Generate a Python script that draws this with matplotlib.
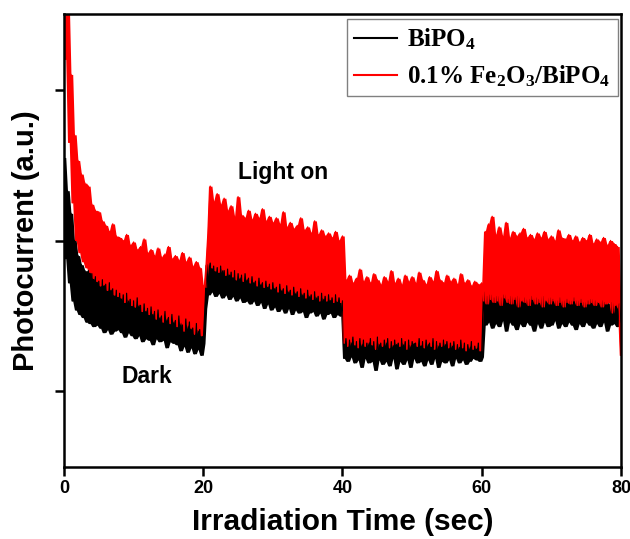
import numpy as np
import matplotlib
matplotlib.use("Agg")
import matplotlib.pyplot as plt

# tempo de irradiação (s), amostrado a cada 0.25 s
tempo = np.linspace(0, 80, 321)

# fotocorrente (u.a.) - BiPO4
bipo4 = [
    20.5, 13.8, 18.3, 12.2, 16.8, 11.0, 15.0, 10.4,
    14.0, 10.1, 13.4, 9.9, 13.0, 9.6, 13.0, 9.5,
    12.8, 9.3, 12.6, 9.4, 12.3, 9.2, 12.4, 8.9,
    12.1, 9.1, 12.2, 8.8, 11.8, 9.0, 11.7, 9.1,
    11.5, 8.9, 11.4, 8.6, 11.5, 8.9, 11.1, 8.7,
    11.0, 8.5, 11.2, 8.7, 10.7, 8.3, 10.8, 8.5,
    10.5, 8.4, 10.6, 8.1, 10.3, 8.5, 10.4, 8.3,
    10.0, 8.4, 10.3, 7.9, 9.9, 8.3, 10.1, 8.2,
    9.7, 8.1, 10.0, 7.7, 9.4, 8.0, 9.8, 7.6,
    9.6, 7.9, 9.2, 7.5, 9.5, 7.8, 9.1, 7.4,
    8.2, 10.5, 13.4, 11.4, 13.5, 11.6, 13.3, 11.3,
    13.2, 11.5, 13.3, 11.2, 13.0, 11.4, 13.1, 11.1,
    12.9, 11.3, 13.0, 11.0, 12.8, 11.2, 12.7, 10.9,
    12.8, 11.0, 12.5, 10.8, 12.6, 11.0, 12.3, 10.7,
    12.5, 10.9, 12.2, 10.5, 12.3, 10.8, 12.1, 10.4,
    12.2, 10.6, 11.9, 10.3, 12.1, 10.5, 11.8, 10.2,
    12.0, 10.5, 11.7, 10.1, 11.9, 10.4, 11.6, 10.2,
    11.8, 10.3, 11.5, 9.9, 11.7, 10.2, 11.4, 10.3,
    11.6, 10.0, 11.3, 10.2, 11.5, 9.8, 11.3, 10.1,
    11.4, 10.2, 11.2, 9.9, 11.4, 10.1, 11.2, 10.0,
    11.0, 7.2, 8.5, 7.0, 8.4, 7.3, 8.6, 6.9,
    8.3, 7.1, 8.5, 6.6, 8.4, 7.2, 8.2, 6.9,
    8.5, 7.0, 8.3, 6.4, 8.6, 7.1, 8.2, 6.8,
    8.4, 7.0, 8.5, 6.7, 8.3, 7.2, 8.4, 6.5,
    8.2, 7.0, 8.5, 6.8, 8.3, 7.1, 8.4, 6.6,
    8.3, 7.2, 8.2, 6.9, 8.5, 7.0, 8.3, 6.7,
    8.4, 7.1, 8.2, 6.8, 8.5, 7.2, 8.3, 6.6,
    8.2, 7.0, 8.4, 6.9, 8.3, 7.1, 8.2, 6.7,
    8.3, 7.2, 8.1, 6.9, 8.4, 7.1, 8.2, 6.8,
    8.1, 7.0, 8.3, 7.2, 8.0, 7.1, 8.2, 7.0,
    7.3, 11.6, 9.4, 11.3, 9.6, 11.4, 9.2, 11.2,
    9.5, 11.3, 9.3, 11.2, 9.7, 11.4, 9.0, 11.1,
    9.6, 11.3, 9.4, 11.2, 9.1, 11.3, 9.5, 11.0,
    9.3, 11.2, 9.6, 11.1, 9.4, 11.3, 9.0, 11.2,
    9.5, 11.1, 9.2, 11.3, 9.6, 11.0, 9.3, 11.2,
    9.4, 11.1, 9.7, 11.0, 9.2, 11.2, 9.5, 11.0,
    9.3, 11.1, 9.6, 11.0, 9.4, 11.2, 9.1, 11.0,
    9.5, 11.1, 9.3, 10.9, 9.6, 11.0, 9.4, 11.1,
    9.2, 11.0, 9.5, 10.9, 9.3, 11.0, 9.6, 10.9,
    9.0, 10.8, 9.4, 10.9, 9.5, 10.7, 9.3, 10.8,
    9.6,
]

# fotocorrente (u.a.) - 0.1% Fe2O3/BiPO4
fe2o3_bipo4 = [
    34.0, 27.0, 31.0, 21.5, 26.0, 17.5, 22.0, 15.0,
    20.3, 14.2, 19.4, 13.6, 18.8, 13.2, 18.6, 12.9,
    17.4, 12.5, 17.0, 12.3, 16.9, 12.0, 16.3, 12.1,
    16.0, 11.7, 15.6, 11.8, 16.1, 11.4, 15.3, 11.3,
    15.2, 11.2, 15.0, 10.9, 15.4, 11.1, 14.7, 10.7,
    14.9, 10.6, 14.4, 10.8, 14.6, 10.3, 15.1, 10.4,
    14.2, 10.1, 14.4, 10.2, 14.0, 9.8, 14.5, 10.0,
    13.9, 9.6, 14.1, 9.9, 14.6, 9.5, 13.8, 9.7,
    14.0, 9.3, 13.7, 9.6, 14.2, 9.0, 13.6, 9.4,
    13.9, 9.2, 13.3, 8.8, 13.6, 9.1, 13.2, 8.7,
    12.0, 11.9, 13.5, 15.5, 18.6, 13.2, 17.6, 13.0,
    18.1, 12.9, 17.4, 13.1, 17.8, 12.7, 17.0, 12.8,
    17.3, 12.6, 16.6, 12.4, 17.9, 12.6, 16.7, 12.3,
    16.5, 12.5, 17.0, 12.2, 16.4, 12.3, 16.8, 12.0,
    16.5, 12.2, 17.1, 11.9, 16.3, 12.0, 16.6, 11.8,
    16.2, 11.9, 16.5, 11.6, 16.1, 11.8, 16.9, 11.5,
    15.9, 11.7, 16.2, 11.4, 15.8, 11.6, 16.0, 11.3,
    16.5, 11.5, 15.7, 11.2, 15.9, 11.4, 15.5, 11.1,
    16.3, 11.3, 15.4, 11.0, 15.7, 11.2, 15.3, 11.0,
    15.5, 11.1, 15.2, 10.9, 15.6, 11.0, 15.0, 10.9,
    15.3, 8.2, 12.4, 8.0, 12.7, 8.3, 12.2, 8.1,
    12.5, 7.9, 13.1, 8.2, 12.3, 8.0, 12.6, 8.3,
    12.2, 8.1, 12.8, 7.8, 12.4, 8.2, 12.1, 8.0,
    12.6, 8.3, 12.3, 7.9, 13.0, 8.1, 12.2, 8.2,
    12.5, 8.0, 12.1, 8.2, 12.7, 7.8, 12.3, 8.1,
    12.6, 8.3, 12.2, 8.0, 12.9, 8.1, 12.4, 7.9,
    12.1, 8.2, 12.6, 8.0, 12.3, 7.8, 13.0, 8.1,
    12.4, 8.0, 12.2, 8.2, 12.7, 7.9, 12.3, 8.1,
    12.5, 7.8, 12.1, 8.0, 12.8, 7.9, 12.2, 7.7,
    12.4, 8.0, 12.0, 7.8, 12.3, 7.9, 12.1, 7.7,
    12.2, 11.0, 15.6, 10.8, 16.1, 11.1, 16.6, 10.9,
    15.4, 11.0, 15.9, 10.7, 15.3, 11.2, 16.2, 10.9,
    15.2, 10.8, 15.6, 11.1, 15.3, 10.6, 15.5, 11.0,
    15.8, 10.9, 15.2, 10.7, 15.4, 11.1, 15.1, 10.8,
    15.5, 10.9, 15.2, 10.6, 15.6, 11.0, 15.1, 10.8,
    15.3, 11.0, 15.0, 10.7, 15.7, 10.9, 15.2, 10.6,
    15.1, 10.9, 15.4, 10.8, 15.0, 11.0, 15.3, 10.7,
    14.9, 10.9, 15.2, 10.6, 15.0, 10.8, 15.4, 10.9,
    14.8, 10.7, 15.1, 10.9, 14.9, 10.6, 15.2, 10.8,
    14.7, 10.9, 15.0, 10.2, 14.8, 10.7, 14.6, 10.5,
    7.4,
]

rotulos = ["BiPO$_4$", "0.1% Fe$_2$O$_3$/BiPO$_4$"]
cores = ["black", "#ff0000"]
ticks_x = [0, 20, 40, 60, 80]
ticks_y = [5, 15, 25]

plt.rcParams["mathtext.fontset"] = "custom"
plt.rcParams["mathtext.rm"] = "Liberation Serif:bold"
plt.rcParams["mathtext.it"] = "Liberation Serif:bold"
plt.rcParams["mathtext.bf"] = "Liberation Serif:bold"

fig = plt.figure(figsize=(6.3, 5.39), dpi=100)
ax = fig.add_axes([0.1016, 0.1336, 0.8841, 0.8404])

for serie, cor, rot in zip([bipo4, fe2o3_bipo4], cores, rotulos):
    v = np.array(serie)
    # faixa de ruído: mínimo/máximo entre vizinhos dos valores lidos
    viz = np.vstack([np.r_[v[0], v[:-1]], v, np.r_[v[1:], v[-1]]])
    ax.fill_between(tempo, viz.min(axis=0), viz.max(axis=0), color=cor, lw=0)
    ax.plot(tempo, v, color=cor, lw=1.0, label=rot)

ax.set_xlim(0, 80)
ax.set_ylim(0, 30)
ax.set_xticks(ticks_x)
ax.set_yticks(ticks_y)
ax.set_yticklabels([])
for s in ax.spines.values():
    s.set_linewidth(1.8)
ax.tick_params(direction="out", length=6.5, width=1.8, labelsize=13, pad=3)
for lab in ax.get_xticklabels():
    lab.set_fontfamily("Liberation Sans")
    lab.set_fontweight("bold")

ax.set_xlabel("Irradiation Time (sec)", fontsize=21.5, fontweight="bold",
              family="Liberation Sans", labelpad=8)
ax.set_ylabel("Photocurrent (a.u.)", fontsize=21, fontweight="bold",
              family="Liberation Sans", labelpad=8)

ax.text(31.5, 19.5, "Light on", fontsize=16.5, fontweight="bold",
        family="Liberation Sans", ha="center", va="center")
ax.text(11.9, 5.96, "Dark", fontsize=16.5, fontweight="bold",
        family="Liberation Sans", ha="center", va="center")

leg = ax.legend(loc="upper right", bbox_to_anchor=(0.994, 0.989), borderaxespad=0,
                prop={"family": "Liberation Serif", "weight": "bold", "size": 18},
                handlelength=1.7, handletextpad=0.4, labelspacing=0.45,
                borderpad=0.3, fancybox=False, framealpha=1)
leg.get_frame().set_edgecolor("#808080")
leg.get_frame().set_linewidth(1.0)
for h in leg.get_lines():
    h.set_linewidth(1.5)

fig.savefig("out.png", dpi=100)
